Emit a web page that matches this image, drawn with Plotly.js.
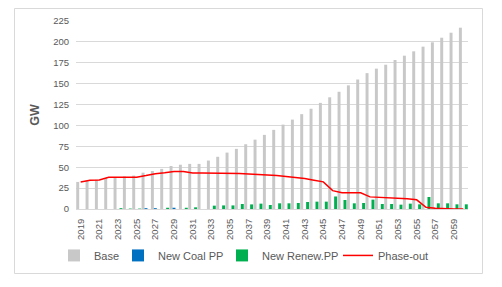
<!DOCTYPE html>
<html>
<head>
<meta charset="utf-8">
<script src="https://cdn.plot.ly/plotly-3.0.1.min.js"></script>
<style>
html,body{margin:0;padding:0;background:#fff;}
#chart{width:502px;height:287px;}
</style>
</head>
<body>
<div id="chart"></div>
<script>
const years = ['2019','2020','2021','2022','2023','2024','2025','2026','2027','2028','2029','2030','2031','2032','2033','2034','2035','2036','2037','2038','2039','2040','2041','2042','2043','2044','2045','2046','2047','2048','2049','2050','2051','2052','2053','2054','2055','2056','2057','2058','2059','2060'];
const tickYears = ['2019','2021','2023','2025','2027','2029','2031','2033','2035','2037','2039','2041','2043','2045','2047','2049','2051','2053','2055','2057','2059'];
const base = [32.4,34,35,37,38,39,40,43.5,45.5,48,51.5,53,54,54,58,62.5,67.5,72,77.5,83,88.7,94.7,101,107,113.5,120,127,133.7,140.3,148,155,162.6,168,172.7,178.3,183.5,188.7,194.3,199.5,205,211,217];
const newCoal = [0,0,0,0,0,0,0,1,1,0,1.5,0,0,0,0,0,0,0,0,0,0,0,0,0,0,0,0,0,0,0,0,0,0,0,0,0,0,0,0,0,0,0];
const newRenew = [0,0,0,0,1,0.5,0.5,0,0,1.5,0,1.5,2,0,4,4.3,4.3,6,5.5,6.4,4.8,6.8,6.8,7.2,8.4,8.8,8.8,15,10.8,6.8,7.2,11.2,6,6,5.2,6.4,5.6,14.4,6.8,6.8,5.6,5.6];
const phaseOut = [32.4,34.3,34.8,38,38,38,38,40,42.3,43.5,45,45,43,43,43,43,43,42.5,42,41.5,41,40,39,38,36.5,34.5,32.5,22,19.5,19.5,19.5,14.5,14,13.6,13,12.4,11,2,0.8,0,0,0];

const txt = '#595959';
const traces = [
  {type:'bar', name:'Base', x:years, y:base, marker:{color:'#c8c8c8'}, legendwidth:19},
  {type:'bar', name:'New Coal PP', x:years, y:newCoal, marker:{color:'#0070c0'}, legendwidth:59},
  {type:'bar', name:'New Renew.PP', x:years, y:newRenew, marker:{color:'#00b050'}, legendwidth:71},
  {type:'scatter', mode:'lines', name:'Phase-out', x:years, y:phaseOut, line:{color:'#ff0000', width:1.5}, legendwidth:54}
];
const layout = {
  width:502, height:287,
  margin:{l:76, r:34, t:21, b:78},
  paper_bgcolor:'#ffffff', plot_bgcolor:'#ffffff',
  font:{family:'Liberation Sans, Arial, sans-serif', color:txt, size:10},
  barmode:'group', bargap:0.05, bargroupgap:0,
  showlegend:true,
  legend:{orientation:'h', xref:'container', yref:'container', x:54/502, xanchor:'left', y:0.11, yanchor:'middle',
          font:{size:11, color:txt}, itemwidth:30, traceorder:'normal'},
  xaxis:{type:'category', tickvals:tickYears, ticktext:tickYears, tickangle:-90,
         tickfont:{size:9.5, color:txt}, showgrid:false, showline:true, linecolor:'#d9d9d9',
         linewidth:1, ticks:'', automargin:false, ticklabelstandoff:5},
  yaxis:{range:[0,225], tickvals:[0,25,50,75,100,125,150,175,200,225], tickfont:{size:9.5, color:txt},
         showgrid:true, gridcolor:'#d9d9d9', gridwidth:1, zeroline:false, ticks:'',
         ticklabelstandoff:6, automargin:false,
         title:{text:'<b>GW</b>', font:{size:12.5, color:txt}, standoff:10}},
  shapes:[{type:'rect', xref:'paper', yref:'paper', x0:(14.5-76)/392, x1:(482.5-76)/392,
           y0:(209-273.5)/188, y1:(209-8.5)/188, line:{color:'#d9d9d9', width:1}, fillcolor:'rgba(0,0,0,0)', layer:'below'}]
};
Plotly.newPlot('chart', traces, layout, {staticPlot:true, displayModeBar:false});
</script>
</body>
</html>
